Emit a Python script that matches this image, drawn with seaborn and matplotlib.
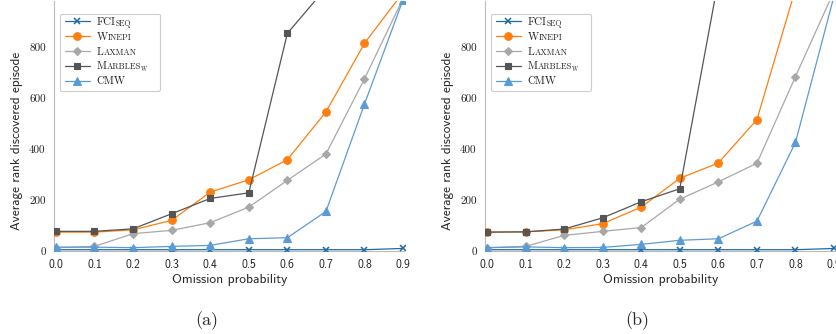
import numpy as np
import pandas as pd
import matplotlib
matplotlib.use("Agg")
import matplotlib.pyplot as plt
import seaborn as sns

# Omission probabilities on the x axis
omission = [0.0, 0.1, 0.2, 0.3, 0.4, 0.5, 0.6, 0.7, 0.8, 0.9]
x_tick_labels = ["0.0", "0.1", "0.2", "0.3", "0.4", "0.5", "0.6", "0.7", "0.8", "0.9"]
y_ticks = [0, 200, 400, 600, 800]

# Panel (a): average rank of the discovered episode
fci_a = [5, 5, 5, 5, 5, 5, 5, 5, 5, 10]
winepi_a = [74, 74, 83, 120, 231, 279, 358, 545, 814, 1014]
laxman_a = [13, 18, 68, 81, 111, 172, 277, 380, 675, 990]
marbles_a = [77, 77, 87, 146, 206, 228, 853, 1031, np.nan, np.nan]
cmw_a = [15, 15, 13, 18, 22, 48, 52, 155, 576, 985]

# Panel (b)
fci_b = [5, 5, 5, 5, 5, 5, 5, 5, 5, 10]
winepi_b = [74, 75, 83, 107, 172, 285, 345, 515, 1027, np.nan]
laxman_b = [13, 18, 61, 77, 92, 203, 271, 344, 684, 1019]
marbles_b = [74, 75, 86, 130, 193, 244, 1061, np.nan, np.nan, np.nan]
cmw_b = [13, 16, 13, 14, 26, 42, 48, 117, 426, 1000]

methods = ["FCIseq", "Winepi", "Laxman", "MarblesW", "CMW"]
colors = {"FCIseq": "#1f6aa5", "Winepi": "#ff7f0e", "Laxman": "#a8a8a8",
          "MarblesW": "#555555", "CMW": "#5b9bd5"}
markers = {"FCIseq": "x", "Winepi": "o", "Laxman": "D", "MarblesW": "s", "CMW": "^"}
msizes = {"FCIseq": 5.0, "Winepi": 5.5, "Laxman": 4.3, "MarblesW": 5.0, "CMW": 5.3}

# Small-caps style legend labels: (text, size factor, vertical shift in pt, gap in px)
label_parts = {
    "FCIseq": [("FCI", 1.0, 0.0, 0), ("SEQ", 0.72, -1.2, 0.4)],
    "Winepi": [("W", 1.0, 0.0, 0), ("INEPI", 0.78, 0.0, 0.3)],
    "Laxman": [("L", 1.0, 0.0, 0), ("AXMAN", 0.78, 0.0, 0.3)],
    "MarblesW": [("M", 1.0, 0.0, 0), ("ARBLES", 0.78, 0.0, 0.3), ("W", 0.55, -1.3, -0.8)],
    "CMW": [("CMW", 1.0, 0.0, 0)],
}

panels = {
    "a": {"FCIseq": fci_a, "Winepi": winepi_a, "Laxman": laxman_a,
          "MarblesW": marbles_a, "CMW": cmw_a},
    "b": {"FCIseq": fci_b, "Winepi": winepi_b, "Laxman": laxman_b,
          "MarblesW": marbles_b, "CMW": cmw_b},
}

sns.set_style("white")
plt.rcParams["axes.unicode_minus"] = False

SERIF = "cmr10"
SANS = "cmss10"
LEG_FS = 7.8
PH = 0.8  # placeholder size factor

W, H = 837, 334
fig = plt.figure(figsize=(W / 100, H / 100), dpi=100)

ax_w = 351 / W
ax_h = 250 / H
ax_bottom = 83 / H
axes = {
    "a": fig.add_axes([54 / W, ax_bottom, ax_w, ax_h]),
    "b": fig.add_axes([485 / W, ax_bottom, ax_w, ax_h]),
}

legends = {}
for key, ax in axes.items():
    data = panels[key]
    for m in methods:
        df = pd.DataFrame({"p": omission, "rank": data[m]}).dropna()
        sns.lineplot(data=df, x="p", y="rank", ax=ax, color=colors[m],
                     marker=markers[m], markersize=msizes[m],
                     markeredgecolor=colors[m],
                     markeredgewidth=1.1 if m == "FCIseq" else 0.8,
                     linewidth=0.9, label=m, errorbar=None)

    ax.set_xlim(-0.005, 0.905)
    ax.set_ylim(0, 980)
    ax.set_xticks(omission, x_tick_labels, fontfamily=SANS, fontsize=8.4)
    ax.set_yticks(y_ticks, [str(v) for v in y_ticks], fontfamily=SERIF, fontsize=8.0)
    ax.tick_params(axis="both", length=0, pad=6, colors="#222222")
    ax.set_xlabel("Omission probability", fontfamily=SANS, fontsize=9.7)
    ax.set_ylabel("Average rank discovered episode", fontfamily=SANS, fontsize=9.5)
    ax.xaxis.set_label_coords(0.5, -0.09)
    ax.yaxis.set_label_coords(-0.088, 0.44)

    for side in ("top", "right"):
        ax.spines[side].set_visible(False)
    for side in ("left", "bottom"):
        ax.spines[side].set_color("#bbbbbb")
        ax.spines[side].set_linestyle((0, (1, 1)))
        ax.spines[side].set_linewidth(0.8)
        ax.spines[side].set_zorder(0)

    handles, labels = ax.get_legend_handles_labels()
    placeholders = ["FCISEQ", "WINEPI", "LAXMAN", "MARBLESWX", "CMW"]
    leg = ax.legend(handles, placeholders, loc="upper left",
                    bbox_to_anchor=(0.017, 0.95), borderaxespad=0,
                    prop={"family": SERIF, "size": LEG_FS * PH},
                    handlelength=2.35 / PH, handletextpad=0.62 / PH,
                    labelspacing=0.6 / PH, borderpad=0.42 / PH,
                    frameon=True, fancybox=True, framealpha=1,
                    edgecolor="#cccccc")
    leg.get_frame().set_linewidth(0.8)
    legends[key] = leg

fig.canvas.draw()
renderer = fig.canvas.get_renderer()

# Compose the small-caps legend labels at the placeholder positions
for key, leg in legends.items():
    for t, m in zip(leg.get_texts(), methods):
        bb = t.get_window_extent(renderer)
        # baseline of the placeholder text, in figure pixels
        x0 = bb.x0
        y_base = bb.y0 + 0.194 * t.get_fontsize() * 100 / 72
        t.set_visible(False)
        prev = None
        for s, f, dy, gap in label_parts[m]:
            size = LEG_FS * f
            x = x0 if prev is None else prev.get_window_extent(renderer).x1 + gap
            ann = fig.text(x / W, (y_base + dy * 100 / 72) / H, s,
                           fontfamily=SERIF, fontsize=size, ha="left",
                           va="baseline", color="#222222", zorder=10)
            fig.canvas.draw()
            prev = ann

fig.text(207 / W, 1 - 321 / H, "(a)", fontfamily=SERIF, fontsize=13,
         ha="center", va="center")
fig.text(637 / W, 1 - 321 / H, "(b)", fontfamily=SERIF, fontsize=13,
         ha="center", va="center")

fig.savefig("out.png", dpi=100)
